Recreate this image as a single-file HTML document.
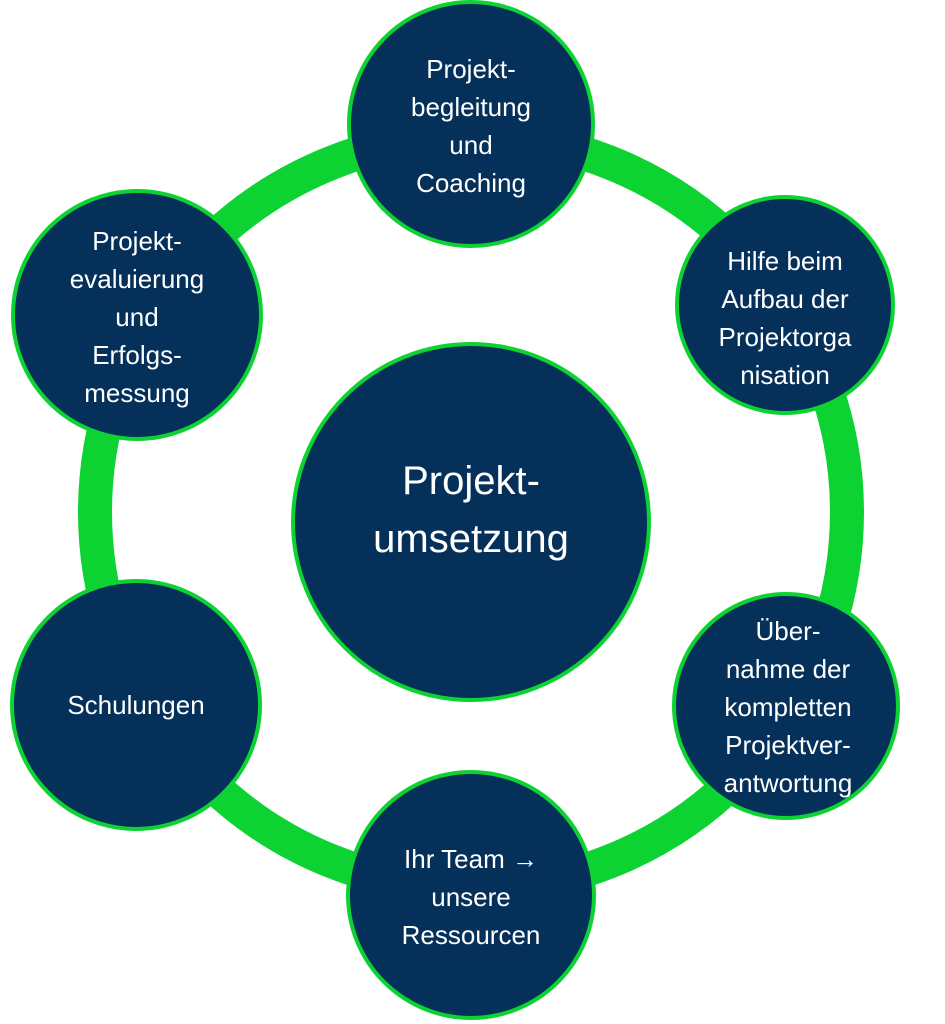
<!DOCTYPE html>
<html><head><meta charset="utf-8"><style>
html,body{margin:0;padding:0;background:#fff;}
svg{display:block}
text{font-family:"Liberation Sans","DejaVu Sans",sans-serif;fill:#fff;text-anchor:middle;}
</style></head><body>
<svg width="945" height="1024" viewBox="0 0 945 1024">
<circle cx="471" cy="512" r="376" fill="none" stroke="#0cd332" stroke-width="34"/>
<g fill="#04305a" stroke="#0cd332" stroke-width="4">
<circle cx="471" cy="124" r="122"/>
<circle cx="785" cy="305" r="108"/>
<circle cx="786" cy="706" r="112"/>
<circle cx="471" cy="895" r="123"/>
<circle cx="136" cy="705" r="124"/>
<circle cx="137" cy="315" r="124"/>
<circle cx="471" cy="522" r="178"/>
</g>
<g font-size="26">
<text x="471" y="78">Projekt-</text>
<text x="471" y="116">begleitung</text>
<text x="471" y="154">und</text>
<text x="471" y="192">Coaching</text>
<text x="785" y="270">Hilfe beim</text>
<text x="785" y="308">Aufbau der</text>
<text x="785" y="346">Projektorga</text>
<text x="785" y="384">nisation</text>
<text x="788" y="640">Über-</text>
<text x="788" y="678">nahme der</text>
<text x="788" y="716">kompletten</text>
<text x="788" y="754">Projektver-</text>
<text x="788" y="792">antwortung</text>
<text x="471" y="868">Ihr Team →</text>
<text x="471" y="906">unsere</text>
<text x="471" y="944">Ressourcen</text>
<text x="136" y="714">Schulungen</text>
<text x="137" y="250">Projekt-</text>
<text x="137" y="288">evaluierung</text>
<text x="137" y="326">und</text>
<text x="137" y="364">Erfolgs-</text>
<text x="137" y="402">messung</text>
</g>
<g font-size="40">
<text x="471" y="494">Projekt-</text>
<text x="471" y="552">umsetzung</text>
</g>
</svg>
</body></html>
